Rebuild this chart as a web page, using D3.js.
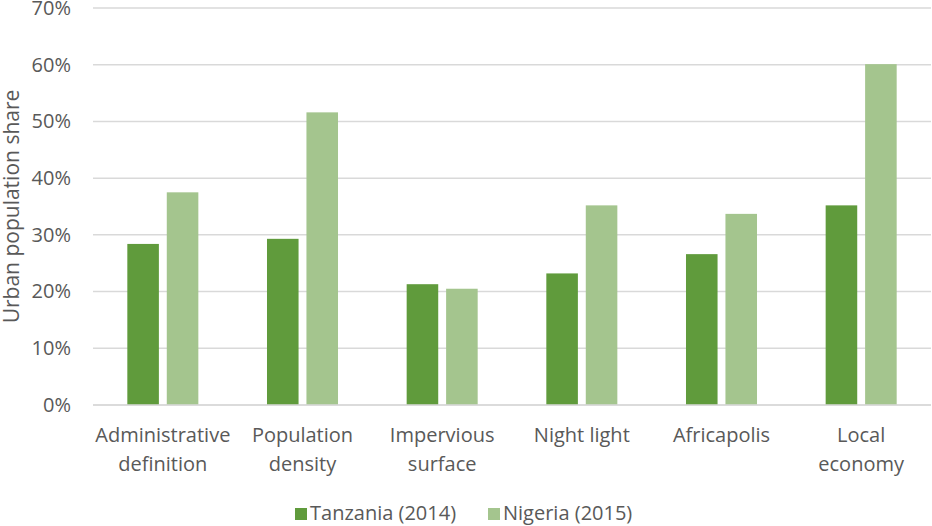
<!DOCTYPE html>
<html>
<head>
<meta charset="utf-8">
<script src="https://cdn.jsdelivr.net/npm/d3@7"></script>
<style>
  body { margin: 0; background: #fff; }
  svg { display: block; }
  text { font-family: "Open Sans", sans-serif; fill: #595959; }
</style>
</head>
<body>
<svg width="932" height="526"></svg>
<script>
// chart data
var categories = [
    ['Administrative', 'definition'],
    ['Population', 'density'],
    ['Impervious', 'surface'],
    ['Night light'],
    ['Africapolis'],
    ['Local', 'economy']
];
var seriesNames = ['Tanzania (2014)', 'Nigeria (2015)'];
var tanzania = [0.284, 0.293, 0.213, 0.232, 0.266, 0.352];
var nigeria  = [0.375, 0.516, 0.205, 0.352, 0.337, 0.601];
var yTicks = [0, 0.1, 0.2, 0.3, 0.4, 0.5, 0.6, 0.7];
var colors = ['#609b3c', '#a4c58e'];

var svg = d3.select('svg');
// note: "top" is taken by window.top, so plot edges get their own names
var plotLeft = 93, plotRight = 931, plotTop = 8, plotBottom = 405;
var catKeys = categories.map(function(c) { return c.join(' '); });

var x = d3.scaleBand().domain(catKeys).range([plotLeft, plotRight]).padding(0);
var xs = d3.scaleBand().domain(seriesNames).range([0, x.bandwidth()])
    .paddingInner(0.2).paddingOuter(0.87);
var y = d3.scaleLinear().domain([0, 0.7]).range([plotBottom, plotTop]);

// gridlines
svg.append('g').selectAll('line').data(yTicks).enter().append('line')
    .attr('x1', plotLeft).attr('x2', plotRight)
    .attr('y1', function(d) { return y(d); })
    .attr('y2', function(d) { return y(d); })
    .attr('stroke', '#d9d9d9')
    .attr('stroke-width', 1.5);

// y axis labels
var yAxis = d3.axisLeft(y).tickValues(yTicks).tickFormat(d3.format('.0%')).tickSize(0).tickPadding(0);
var ya = svg.append('g').attr('transform', 'translate(71,0)').call(yAxis);
ya.select('.domain').remove();
ya.selectAll('text').style('font-size', '20px').style('font-family', '"Open Sans", sans-serif').attr('fill', '#595959');

// bars
var rows = catKeys.map(function(k, i) {
    return { cat: k, values: [tanzania[i], nigeria[i]] };
});
var groups = svg.append('g').selectAll('g').data(rows).enter().append('g')
    .attr('transform', function(d) { return 'translate(' + x(d.cat) + ',0)'; });
groups.selectAll('rect').data(function(d) {
    return d.values.map(function(v, j) { return { name: seriesNames[j], v: v, j: j }; });
}).enter().append('rect')
    .attr('x', function(d) { return xs(d.name); })
    .attr('width', xs.bandwidth())
    .attr('y', function(d) { return y(d.v); })
    .attr('height', function(d) { return plotBottom - y(d.v); })
    .attr('fill', function(d) { return colors[d.j]; });

// baseline redrawn over bars
svg.append('line').attr('x1', plotLeft).attr('x2', plotRight)
    .attr('y1', y(0)).attr('y2', y(0))
    .attr('stroke', '#d9d9d9').attr('stroke-width', 1.5);

// category labels
var labels = svg.append('g').selectAll('text').data(categories).enter().append('text')
    .attr('text-anchor', 'middle')
    .style('font-size', '20px')
    .attr('y', 442);
labels.selectAll('tspan').data(function(d, i) {
    return d.map(function(line) { return { line: line, i: i }; });
}).enter().append('tspan')
    .attr('x', function(d) { return x(catKeys[d.i]) + x.bandwidth() / 2; })
    .attr('dy', function(d, k) { return k === 0 ? 0 : 29; })
    .text(function(d) { return d.line; });

// y axis title
svg.append('text')
    .attr('transform', 'translate(19,' + ((plotTop + plotBottom) / 2) + ') rotate(-90)')
    .attr('text-anchor', 'middle')
    .style('font-size', '21px')
    .text('Urban population share');

// legend
var legendX = [295, 488];
var legend = svg.append('g').selectAll('g').data(seriesNames).enter().append('g')
    .attr('transform', function(d, i) { return 'translate(' + legendX[i] + ',508)'; });
legend.append('rect').attr('width', 12).attr('height', 12)
    .attr('fill', function(d, i) { return colors[i]; });
legend.append('text').attr('x', 15).attr('y', 11.5)
    .style('font-size', '20px')
    .text(function(d) { return d; });
</script>
</body>
</html>
